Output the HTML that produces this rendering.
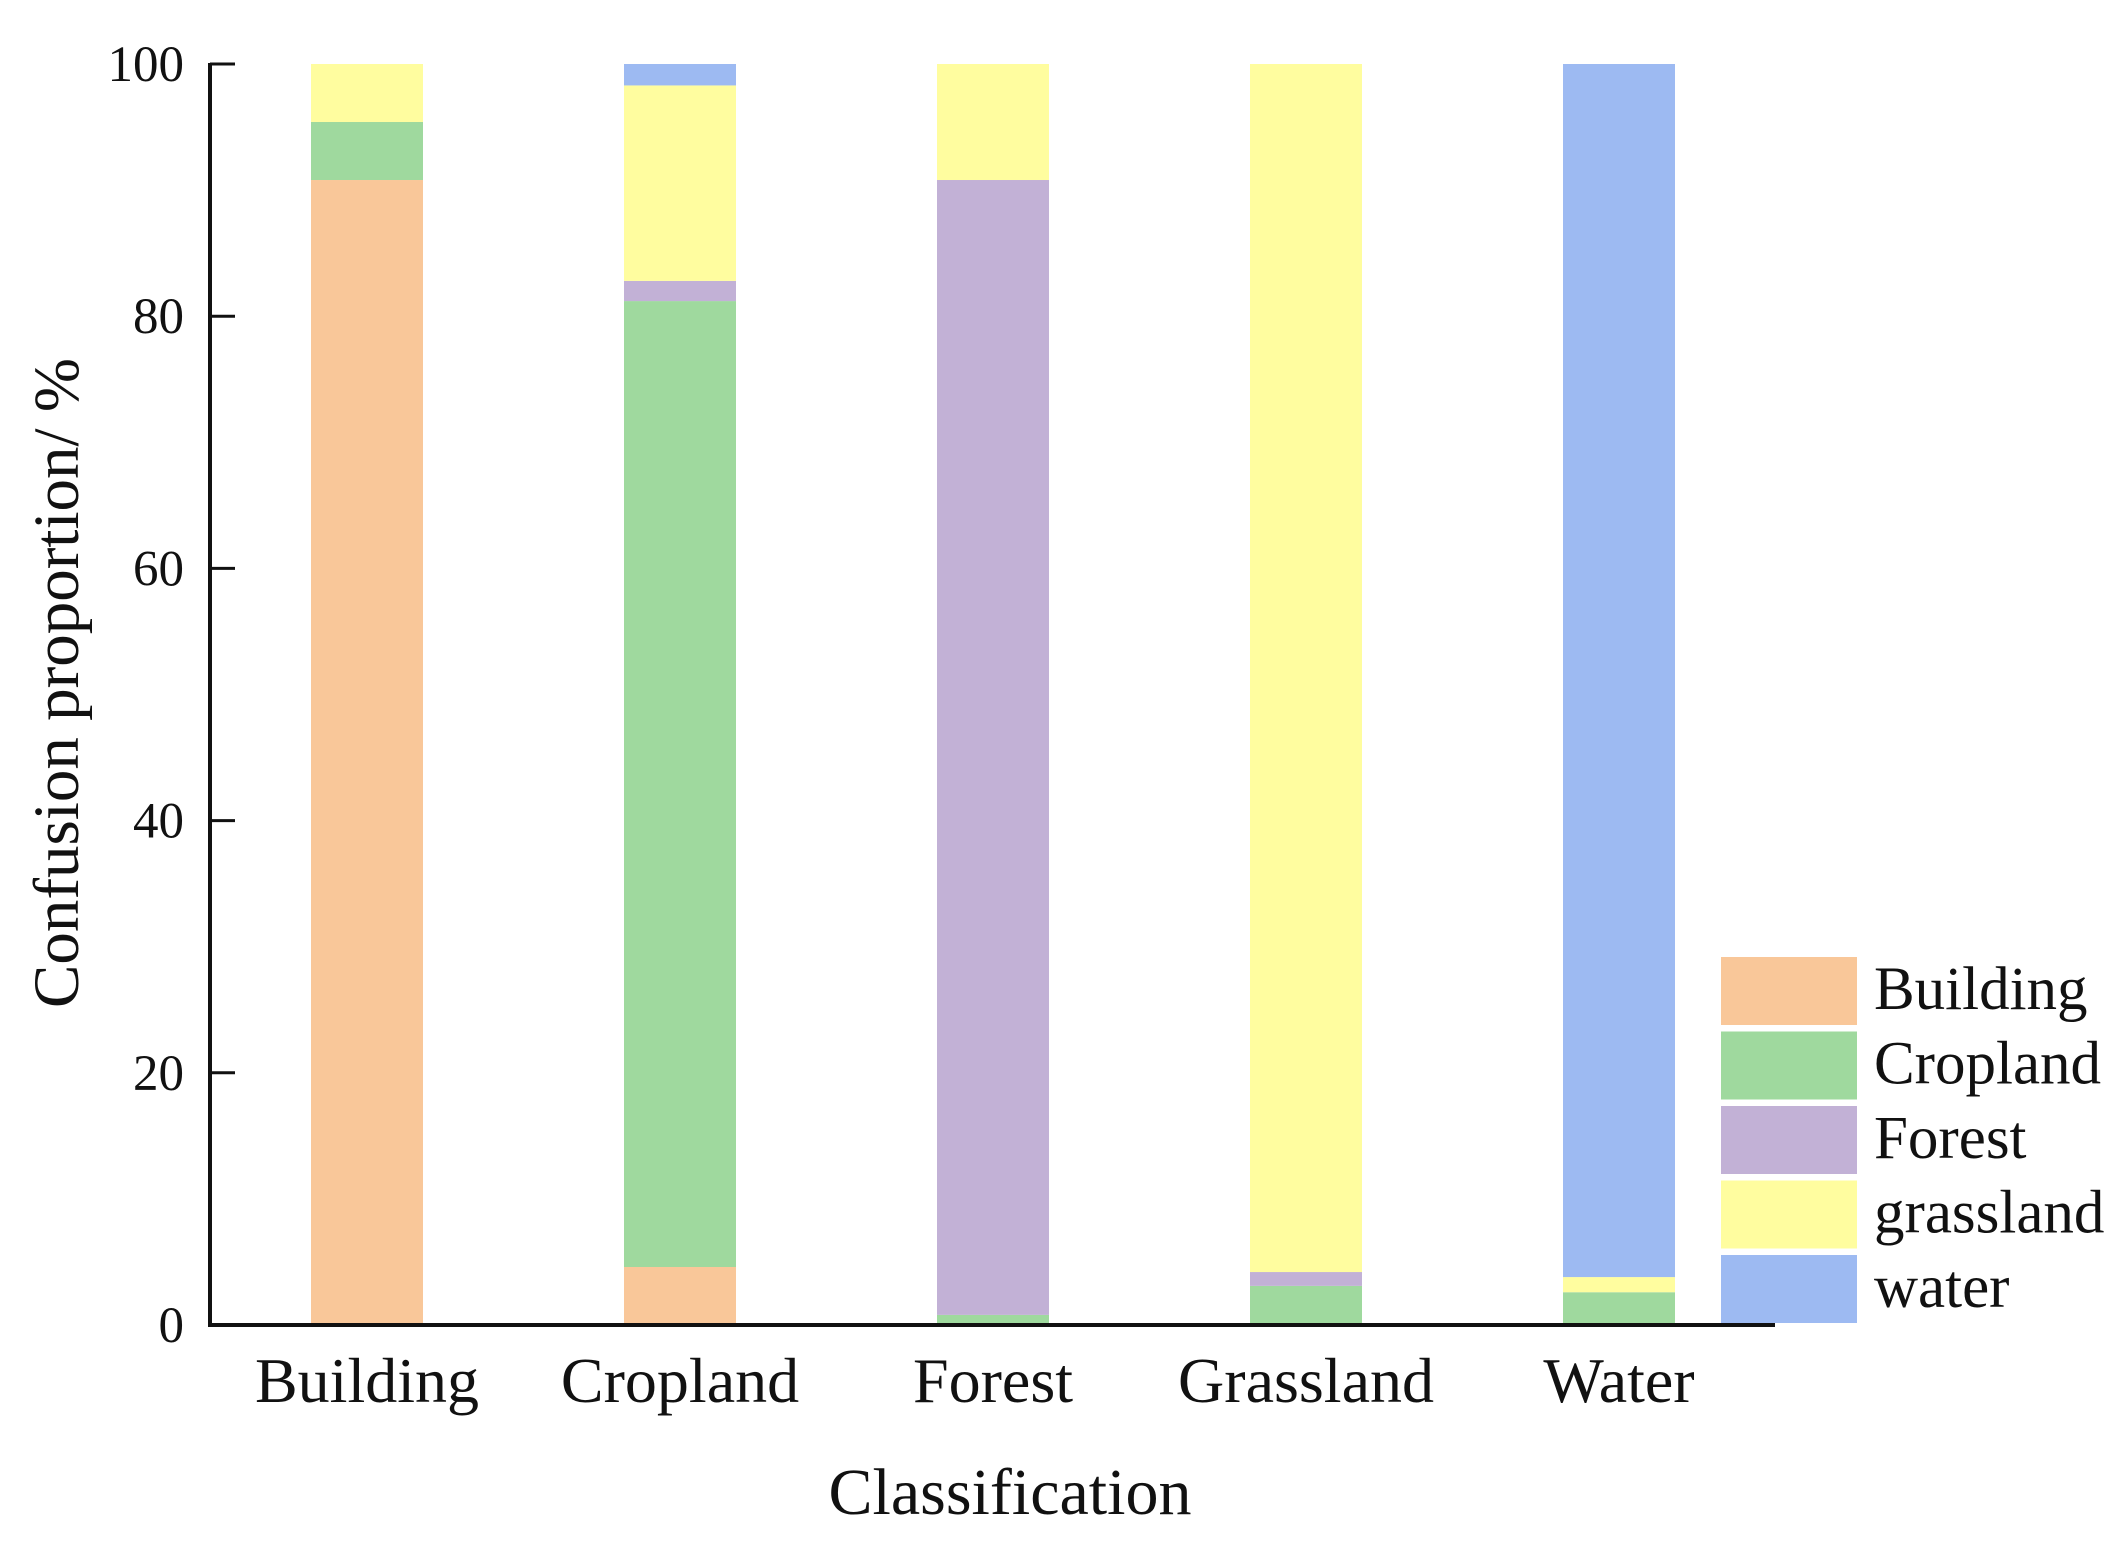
<!DOCTYPE html>
<html><head><meta charset="utf-8"><style>
html,body{margin:0;padding:0;background:#fff;}
svg{display:block;font-family:"Liberation Serif",serif;}
</style></head><body>
<svg id="chart" width="2120" height="1542" viewBox="0 0 2120 1542"></svg>
<script>
const categories = ["Building","Cropland","Forest","Grassland","Water"];
const seriesNames = ["Building","Cropland","Forest","grassland","water"];
const buildingVals = [90.8, 4.6, 0, 0, 0];
const croplandVals = [4.6, 76.6, 0.8, 3.1, 2.6];
const forestVals = [0, 1.6, 90.0, 1.1, 0];
const grasslandVals = [4.6, 15.5, 9.2, 95.8, 1.2];
const waterVals = [0, 1.7, 0, 0, 96.2];
const yTicks = [0, 20, 40, 60, 80, 100];

const colors = ["#f9c799","#9fd99e","#c2b1d6","#fffd9f","#9dbaf2"];
const series = [buildingVals, croplandVals, forestVals, grasslandVals, waterVals];
const NS = "http://www.w3.org/2000/svg";
const svg = document.getElementById("chart");
const X0 = 210, X1 = 1775, Y0 = 1325, Y1 = 64;
const yScale = v => Y0 - (v / 100) * (Y0 - Y1);
const step = 313, firstC = 367, barW = 112;
const xCenter = i => firstC + i * step;

function mk(tag, attrs, parent) {
  const e = document.createElementNS(NS, tag);
  for (const k in attrs) e.setAttribute(k, attrs[k]);
  (parent || svg).appendChild(e);
  return e;
}

categories.forEach((c, i) => {
  const g = mk("g", {});
  
  
  let cum = 0;
  series.forEach((s, k) => {
    const v = s[i];
    if (v <= 0) return;
    const yTop = yScale(cum + v), yBot = yScale(cum);
    const r = mk("rect", {x: xCenter(i) - barW / 2, y: yTop, width: barW, height: yBot - yTop, fill: colors[k]}, g);
    
    
    cum += v;
  });
  const t = mk("text", {x: xCenter(i), y: 1402, "text-anchor": "middle", "font-size": 64, fill: "#111"});
  t.textContent = c;
  
  
});

const ya = mk("line", {x1: X0, y1: Y1 - 1, x2: X0, y2: Y0 + 2, stroke: "#111", "stroke-width": 4});


const xa = mk("line", {x1: X0 - 2, y1: Y0, x2: X1, y2: Y0, stroke: "#111", "stroke-width": 4});



yTicks.forEach(v => {
  const y = yScale(v);
  const tk = mk("line", {x1: X0, y1: y, x2: X0 + 25, y2: y, stroke: "#111", "stroke-width": 3});
  
  
  const t = mk("text", {x: 184, y: y + 17, "text-anchor": "end", "font-size": 51, fill: "#111"});
  t.textContent = v;
  
  
});

const yt = mk("text", {x: 0, y: 0, "text-anchor": "middle", "font-size": 65, fill: "#111", transform: "translate(78,683) rotate(-90)"});
yt.textContent = "Confusion proportion/ %";



const xt = mk("text", {x: 1010, y: 1514, "text-anchor": "middle", "font-size": 66, fill: "#111"});
xt.textContent = "Classification";



const lg = mk("g", {});


seriesNames.forEach((n, k) => {
  const y = 957 + k * 74.5;
  const r = mk("rect", {x: 1721, y: y, width: 136, height: 68, fill: colors[k]}, lg);
  
  
  const t = mk("text", {x: 1874, y: y + 52, "font-size": 61, fill: "#111"}, lg);
  t.textContent = n;
  
  
});
</script>
</body></html>
